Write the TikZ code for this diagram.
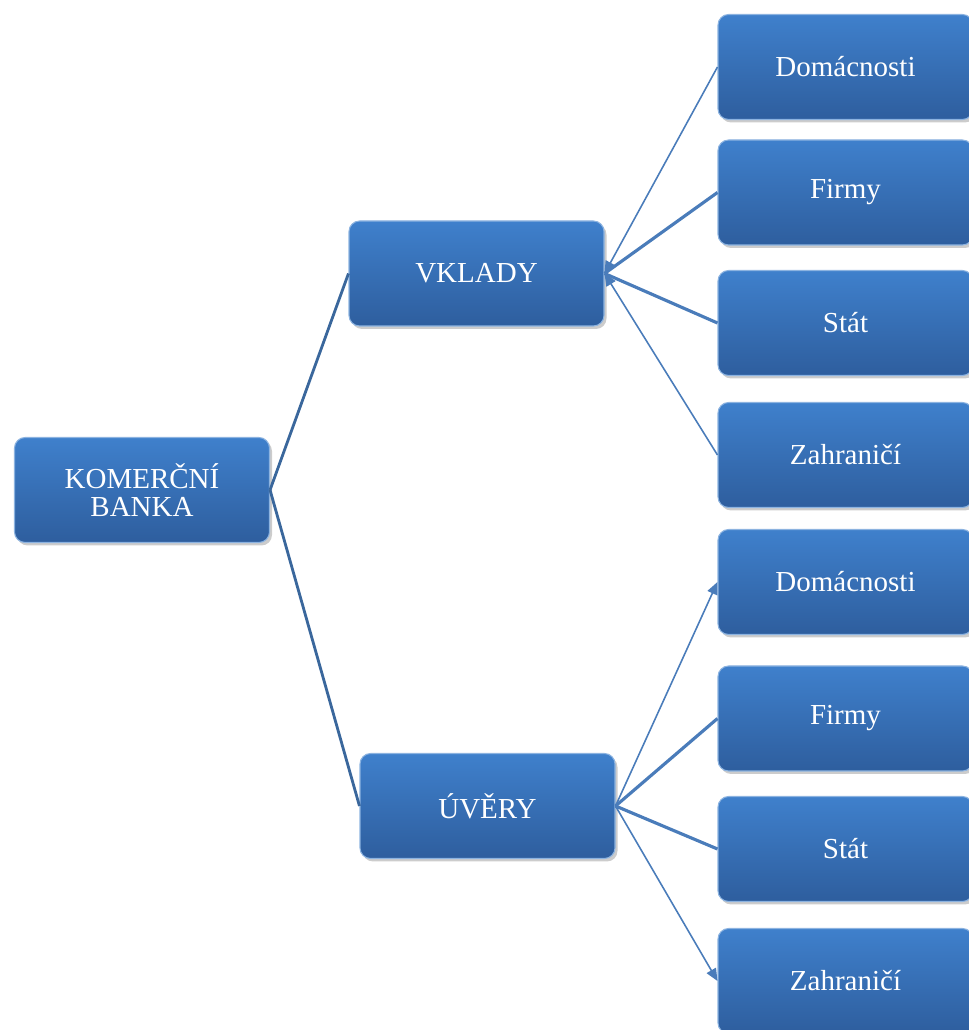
\documentclass[tikz,border=0pt]{standalone}
\usepackage{fontspec}
\setmainfont{Liberation Serif}
\usetikzlibrary{shadows,arrows.meta}
\definecolor{boxtop}{HTML}{3F80CC}
\definecolor{boxbot}{HTML}{2E5E9E}
\definecolor{linkblue}{HTML}{4A7CBA}
\definecolor{rootline}{HTML}{3A679C}
\begin{document}
\begin{tikzpicture}[
  box/.style={rectangle, rounded corners=6pt, minimum width=5.1cm, minimum height=2.1cm,
    top color=boxtop, bottom color=boxbot, draw=boxtop!60!white, line width=0.6pt,
    text=white, align=center, font=\fontsize{16.5}{15.5}\selectfont,
    drop shadow={shadow xshift=0.05cm, shadow yshift=-0.06cm, fill=black!40, opacity=0.5}},
  thin link/.style={draw=linkblue, line width=0.9pt, -{Triangle[length=7pt,width=6pt]}},
  thick link/.style={draw=linkblue, line width=1.8pt},
  root link/.style={draw=rootline, line width=1.6pt}
]
\useasboundingbox (0,0) rectangle (19.38,20.6);
\clip (0,0) rectangle (19.38,20.6);
% left and middle
\node[box] (kb) at (2.84,10.8) {KOMERČNÍ\\BANKA};
\node[box] (vklady) at (9.53,15.13) {VKLADY};
\node[box] (uvery) at (9.75,4.48) {ÚVĚRY};
% right column
\node[box] (dom1) at (16.91,19.26) {Domácnosti};
\node[box] (fir1) at (16.91,16.75) {Firmy};
\node[box] (sta1) at (16.91,14.14) {Stát};
\node[box] (zah1) at (16.91,11.5) {Zahraničí};
\node[box] (dom2) at (16.91,8.96) {Domácnosti};
\node[box] (fir2) at (16.91,6.23) {Firmy};
\node[box] (sta2) at (16.91,3.62) {Stát};
\node[box] (zah2) at (16.91,0.98) {Zahraničí};
% links
\draw[root link] (kb.east) -- (vklady.west);
\draw[root link] (kb.east) -- (uvery.west);
\draw[thin link] (dom1.west) -- (vklady.east);
\draw[thick link] (fir1.west) -- (vklady.east);
\draw[thick link] (sta1.west) -- (vklady.east);
\draw[thin link] (zah1.west) -- (vklady.east);
\draw[thin link] (uvery.east) -- (dom2.west);
\draw[thick link] (uvery.east) -- (fir2.west);
\draw[thick link] (uvery.east) -- (sta2.west);
\draw[thin link] (uvery.east) -- (zah2.west);
\end{tikzpicture}
\end{document}
